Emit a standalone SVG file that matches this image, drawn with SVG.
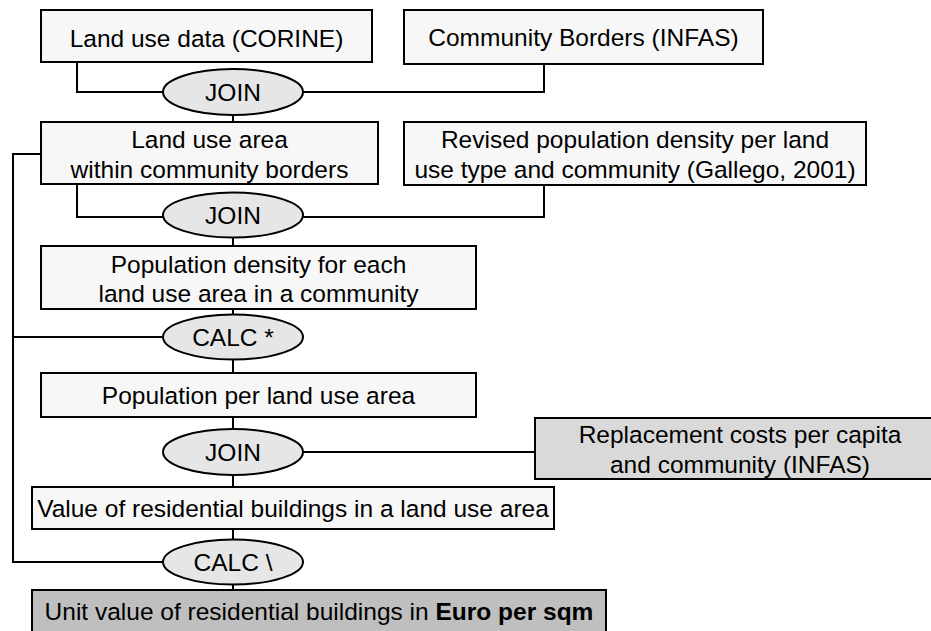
<svg xmlns="http://www.w3.org/2000/svg" width="931" height="631" viewBox="0 0 931 631">
<style>
.box{fill:#f7f7f7;stroke:#000;stroke-width:2}
.op{fill:#e6e6e6;stroke:#000;stroke-width:2}
.c{fill:none;stroke:#000;stroke-width:2}
text{font-family:"Liberation Sans",Arial,sans-serif;font-size:24.5px;fill:#000;text-anchor:middle}
</style>
<rect width="931" height="631" fill="#fff"/>
<g id="connectors">
<polyline class="c" points="77,62 77,92 163,92"/>
<polyline class="c" points="303,92 544,92 544,64"/>
<line class="c" x1="233" y1="115" x2="233" y2="122"/>
<polyline class="c" points="77,184 77,217 163,217"/>
<polyline class="c" points="303,217 544,217 544,185"/>
<line class="c" x1="233" y1="237" x2="233" y2="246"/>
<polyline class="c" points="41,154 13,154 13,562 163,562"/>
<line class="c" x1="13" y1="337" x2="163" y2="337"/>
<line class="c" x1="233" y1="309" x2="233" y2="314"/>
<line class="c" x1="233" y1="359" x2="233" y2="373"/>
<line class="c" x1="233" y1="417" x2="233" y2="429"/>
<line class="c" x1="303" y1="452" x2="535" y2="452"/>
<line class="c" x1="233" y1="475" x2="233" y2="487"/>
<line class="c" x1="233" y1="529" x2="233" y2="540"/>
<line class="c" x1="233" y1="585" x2="233" y2="590"/>
</g>
<g id="n1"><rect class="box" x="41" y="10" width="331" height="52"/><text x="206.5" y="47">Land use data (CORINE)</text></g>
<g id="n2"><rect class="box" x="404" y="10" width="359" height="54"/><text x="583.5" y="46">Community Borders (INFAS)</text></g>
<g id="op1"><ellipse class="op" cx="233" cy="92" rx="70" ry="23"/><text x="233" y="101">JOIN</text></g>
<g id="n3"><rect class="box" x="41" y="122" width="337" height="62"/><text x="209.5" y="148">Land use area</text><text x="209.5" y="178">within community borders</text></g>
<g id="n4"><rect class="box" x="404" y="122" width="462" height="63"/><text x="635" y="148">Revised population density per land</text><text x="635" y="178">use type and community (Gallego, 2001)</text></g>
<g id="op2"><ellipse class="op" cx="233" cy="215" rx="70" ry="22.5"/><text x="233" y="224">JOIN</text></g>
<g id="n5"><rect class="box" x="41" y="246" width="435" height="63"/><text x="258.5" y="273">Population density for each</text><text x="258.5" y="302">land use area in a community</text></g>
<g id="op3"><ellipse class="op" cx="233" cy="337" rx="70" ry="22.5"/><text x="233" y="346">CALC *</text></g>
<g id="n6"><rect class="box" x="41" y="373" width="435" height="44"/><text x="258.5" y="404">Population per land use area</text></g>
<g id="op4"><ellipse class="op" cx="233" cy="452" rx="70" ry="23"/><text x="233" y="461">JOIN</text></g>
<g id="n7"><rect class="box" style="fill:#d9d9d9" x="535" y="418" width="411" height="61"/><text x="740" y="443">Replacement costs per capita</text><text x="740" y="473">and community (INFAS)</text></g>
<g id="n8"><rect class="box" x="32" y="487" width="522" height="42"/><text x="293" y="517">Value of residential buildings in a land use area</text></g>
<g id="op5"><ellipse class="op" cx="233" cy="562" rx="70" ry="22.5"/><text x="233" y="571">CALC \</text></g>
<g id="n9"><rect class="box" style="fill:#bfbfbf" x="32" y="590" width="574" height="50"/><text x="319" y="620">Unit value of residential buildings in <tspan font-weight="bold">Euro per sqm</tspan></text></g>
</svg>
